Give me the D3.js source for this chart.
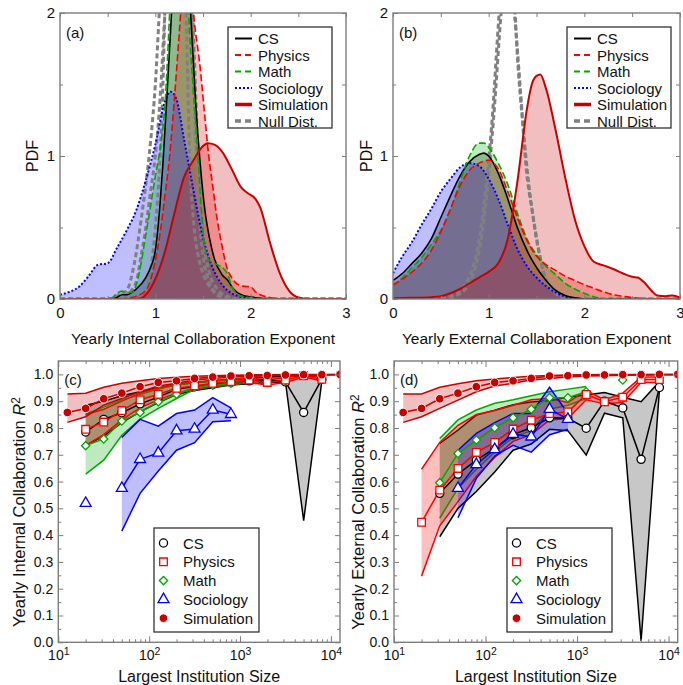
<!DOCTYPE html>
<html>
<head>
<meta charset="utf-8">
<script src="https://cdn.jsdelivr.net/npm/d3@7"></script>
<style>
  body { margin: 0; background: #fff; }
  svg { display: block; }
</style>
</head>
<body>
<svg id="fig" width="683" height="685"></svg>
<script>
// ---------- PDF curves of the yearly collaboration exponents: [exponent, density] ----------
const csInternal = [[0,0],[0.55,0],[0.6,0.012],[0.65,0.03],[0.7,0.03],[0.8,0.07],[0.9,0.15],[0.95,0.22],[1.0,0.34],[1.05,0.67],[1.08,0.95],[1.12,1.4],[1.17,2.0],[1.22,2.6],[1.28,2.9],[1.33,2.6],[1.37,2.0],[1.42,1.4],[1.47,0.95],[1.52,0.62],[1.57,0.42],[1.62,0.28],[1.7,0.17],[1.76,0.13],[1.82,0.07],[1.9,0.03],[2.0,0.015],[2.1,0.005],[2.2,0],[3,0]];
const physicsInternal = [[0,0],[0.6,0],[0.7,0.005],[0.8,0.02],[0.9,0.06],[1.0,0.27],[1.05,0.46],[1.1,0.72],[1.15,1.0],[1.2,1.4],[1.25,1.85],[1.3,2.3],[1.35,2.45],[1.4,2.0],[1.47,1.62],[1.52,1.27],[1.56,1.0],[1.6,0.8],[1.65,0.55],[1.7,0.37],[1.75,0.22],[1.8,0.15],[1.85,0.11],[1.92,0.09],[2.0,0.085],[2.05,0.05],[2.1,0.03],[2.2,0.01],[2.3,0],[3,0]];
const mathInternal = [[0,0],[0.5,0],[0.55,0.01],[0.6,0.04],[0.65,0.055],[0.7,0.045],[0.75,0.045],[0.8,0.1],[0.85,0.25],[0.9,0.45],[0.95,0.65],[1.0,0.86],[1.05,1.05],[1.1,1.35],[1.15,2.0],[1.2,2.8],[1.27,3.0],[1.32,2.6],[1.35,2.0],[1.4,1.45],[1.45,0.97],[1.48,0.65],[1.52,0.36],[1.57,0.27],[1.62,0.25],[1.68,0.23],[1.72,0.21],[1.76,0.17],[1.8,0.09],[1.85,0.04],[1.9,0.02],[2.0,0.01],[2.1,0],[3,0]];
const sociologyInternal = [[0,0.03],[0.1,0.05],[0.2,0.085],[0.3,0.16],[0.4,0.24],[0.5,0.25],[0.6,0.36],[0.7,0.48],[0.8,0.62],[0.9,0.83],[1.0,1.08],[1.1,1.38],[1.16,1.45],[1.22,1.4],[1.3,1.12],[1.4,0.76],[1.5,0.43],[1.6,0.22],[1.7,0.1],[1.8,0.04],[1.9,0.015],[2.0,0.005],[2.1,0],[3,0]];
const simulationInternal = [[0,0],[0.8,0],[0.85,0.005],[0.9,0.03],[1.0,0.14],[1.1,0.33],[1.2,0.6],[1.3,0.85],[1.4,0.97],[1.5,1.07],[1.55,1.09],[1.62,1.08],[1.7,1.03],[1.8,0.91],[1.9,0.78],[1.97,0.74],[2.05,0.7],[2.1,0.64],[2.2,0.4],[2.3,0.19],[2.4,0.06],[2.5,0.01],[2.6,0],[3,0]];
const nullInternalA = [[0,0],[0.6,0],[0.7,0.03],[0.8,0.12],[0.85,0.3],[0.9,0.5],[0.95,0.75],[1.0,1.0],[1.05,1.4],[1.1,2.0],[1.18,2.8],[1.25,3.0],[1.32,2.6],[1.38,2.0],[1.42,1.2],[1.45,0.7],[1.5,0.3],[1.55,0.15],[1.6,0.07],[1.7,0.02],[1.8,0],[3,0]];
const nullInternalB = [[0,0],[0.8,0],[0.9,0.05],[0.95,0.2],[1.0,0.5],[1.05,1.0],[1.08,1.5],[1.1,2.0],[1.2,3.0],[1.3,2.5],[1.33,1.8],[1.36,1.0],[1.4,0.55],[1.45,0.3],[1.5,0.18],[1.6,0.06],[1.7,0.01],[1.8,0],[3,0]];
const nullInternalC = [[0,0],[0.55,0],[0.62,0.03],[0.7,0.06],[0.78,0.25],[0.85,0.55],[0.9,0.8],[0.95,1.1],[1.0,1.5],[1.05,2.1],[1.15,2.9],[1.3,2.9],[1.38,2.2],[1.42,1.5],[1.46,0.8],[1.5,0.45],[1.56,0.2],[1.65,0.07],[1.75,0.02],[1.85,0],[3,0]];

const csExternal = [[0,0.13],[0.1,0.18],[0.2,0.25],[0.3,0.32],[0.4,0.42],[0.5,0.57],[0.6,0.72],[0.7,0.86],[0.8,0.96],[0.9,1.01],[0.95,1.02],[1.0,1.0],[1.1,0.88],[1.2,0.7],[1.3,0.5],[1.4,0.34],[1.5,0.22],[1.6,0.13],[1.7,0.06],[1.8,0.025],[1.9,0.008],[2.0,0],[3,0]];
const physicsExternal = [[0,0.1],[0.1,0.14],[0.2,0.19],[0.3,0.25],[0.4,0.34],[0.5,0.47],[0.6,0.63],[0.7,0.79],[0.8,0.9],[0.9,0.95],[1.0,0.97],[1.1,0.91],[1.2,0.75],[1.3,0.57],[1.4,0.41],[1.5,0.3],[1.6,0.24],[1.7,0.2],[1.8,0.16],[1.9,0.13],[2.0,0.1],[2.1,0.075],[2.2,0.05],[2.3,0.03],[2.4,0.02],[2.5,0.01],[2.6,0.005],[2.8,0],[3,0]];
const mathExternal = [[0,0.09],[0.1,0.15],[0.2,0.22],[0.3,0.29],[0.4,0.38],[0.5,0.48],[0.6,0.62],[0.7,0.82],[0.8,1.0],[0.9,1.09],[0.95,1.09],[1.0,1.06],[1.1,0.95],[1.2,0.8],[1.3,0.6],[1.4,0.42],[1.5,0.31],[1.6,0.23],[1.7,0.17],[1.8,0.11],[1.9,0.07],[2.0,0.04],[2.1,0.015],[2.2,0],[3,0]];
const sociologyExternal = [[0,0.18],[0.1,0.3],[0.2,0.4],[0.3,0.52],[0.4,0.63],[0.5,0.75],[0.6,0.84],[0.7,0.92],[0.8,0.95],[0.9,0.93],[1.0,0.84],[1.1,0.7],[1.2,0.52],[1.3,0.35],[1.4,0.23],[1.5,0.15],[1.6,0.09],[1.7,0.045],[1.8,0.017],[1.9,0.005],[2.0,0],[3,0]];
const simulationExternal = [[0,0.005],[0.2,0.008],[0.4,0.013],[0.5,0.02],[0.6,0.04],[0.7,0.07],[0.8,0.11],[0.9,0.15],[1.0,0.19],[1.1,0.25],[1.2,0.42],[1.3,0.82],[1.4,1.33],[1.45,1.5],[1.5,1.56],[1.54,1.57],[1.6,1.47],[1.7,1.18],[1.8,0.85],[1.9,0.56],[2.0,0.37],[2.1,0.26],[2.2,0.235],[2.3,0.21],[2.4,0.18],[2.5,0.155],[2.56,0.15],[2.62,0.12],[2.7,0.06],[2.76,0.025],[2.85,0.02],[2.92,0.025],[3.0,0.01]];
const nullExternalA = [[0,0],[0.5,0.005],[0.6,0.02],[0.74,0.09],[0.84,0.23],[0.9,0.41],[0.97,0.78],[1.03,1.2],[1.11,2.0],[1.19,2.6],[1.27,2.0],[1.34,1.39],[1.39,0.93],[1.46,0.6],[1.53,0.32],[1.6,0.13],[1.7,0.04],[1.8,0.01],[1.9,0],[3,0]];
const nullExternalB = [[0,0],[0.55,0],[0.65,0.02],[0.77,0.08],[0.86,0.22],[0.93,0.45],[0.99,0.8],[1.05,1.25],[1.13,2.0],[1.2,2.5],[1.26,2.2],[1.3,1.7],[1.36,1.2],[1.42,0.8],[1.48,0.5],[1.55,0.25],[1.62,0.1],[1.72,0.03],[1.82,0],[3,0]];

// ---------- R^2 versus largest institution size ----------
const sizes = [12.6, 20, 31.6, 50, 79.4, 126, 200, 316, 501, 794, 1259, 1995, 3162, 5012, 7943, 12589];

// internal collaboration
const csIntR2    = [null, 0.785, 0.832, 0.857, 0.89, 0.915, 0.945, 0.955, 0.963, 0.97, 0.976, 0.98, 0.972, 0.858, 0.982, null];
const csIntHi    = [null, 0.885, 0.90, 0.92, 0.935, 0.95, 0.96, 0.97, 0.975, 0.98, 0.985, 0.99, 0.992, 0.995, 0.992, null];
const csIntLo    = [null, 0.734, 0.77, 0.82, 0.86, 0.895, 0.925, 0.94, 0.95, 0.96, 0.965, 0.97, 0.972, 0.454, 0.975, null];
const phyIntR2   = [null, 0.795, 0.822, 0.865, 0.905, 0.926, 0.948, 0.957, 0.967, 0.973, 0.979, 0.970, 0.979, 0.995, 0.982, null];
const phyIntHi   = [null, 0.85, 0.87, 0.90, 0.93, 0.95, 0.965, 0.972, 0.978, 0.982, 0.986, 0.98, 0.988, 1.0, 0.99, null];
const phyIntLo   = [null, 0.735, 0.775, 0.83, 0.875, 0.905, 0.93, 0.945, 0.955, 0.963, 0.97, 0.96, 0.97, 0.99, 0.975, null];
const mathIntR2  = [null, 0.734, 0.759, 0.826, 0.858, 0.898, 0.926, 0.952, 0.960, 0.967, 0.983, null, 0.976, null, null, null];
const mathIntHi  = [null, 0.852, 0.878, 0.905, 0.925, 0.945, 0.96, 0.97, 0.975, 0.98, 0.99, null, null, null, null, null];
const mathIntLo  = [null, 0.628, 0.68, 0.773, 0.833, 0.873, 0.91, 0.944, 0.955, 0.96, 0.97, null, null, null, null, null];
const socIntR2   = [null, 0.519, null, 0.575, 0.683, 0.707, 0.79, 0.796, 0.867, 0.851, null, null, null, null, null, null];
const socIntHi   = [null, null, null, 0.765, 0.832, 0.807, 0.854, 0.867, 0.913, 0.875, null, null, null, null, null, null];
const socIntLo   = [null, null, null, 0.415, 0.556, 0.639, 0.717, 0.745, 0.823, 0.827, null, null, null, null, null, null];
const simIntR2   = [0.858, 0.873, 0.909, 0.930, 0.954, 0.970, 0.976, 0.985, 0.990, 0.994, 0.995, 0.996, 0.998, 0.999, 0.999, 1.0];
const simIntHi   = [0.927, 0.93, 0.952, 0.967, 0.976, 0.985, 0.989, 0.993, 0.995, 0.997, 0.998, 0.999, 1.0, 1.0, 1.0, 1.0];
const simIntLo   = [0.821, 0.842, 0.885, 0.91, 0.935, 0.957, 0.967, 0.979, 0.985, 0.989, 0.993, 0.995, 0.996, 0.997, 0.998, 0.999];

// external collaboration
const csExtR2    = [null, null, 0.556, 0.628, 0.680, 0.724, 0.775, 0.801, 0.838, 0.836, 0.799, 0.90, 0.875, 0.683, 0.951, null];
const csExtHi    = [null, null, 0.742, 0.792, 0.848, 0.866, 0.887, 0.897, 0.903, 0.915, 0.923, 0.932, 0.915, 0.898, 0.973, null];
const csExtLo    = [null, null, 0.394, 0.50, 0.563, 0.636, 0.717, 0.74, 0.795, 0.79, 0.699, 0.855, 0.838, 0.005, 0.94, null];
const phyExtR2   = [null, 0.448, 0.568, 0.649, 0.709, 0.746, 0.796, 0.829, 0.854, 0.860, 0.925, 0.898, 0.915, 0.981, 0.981, null];
const phyExtHi   = [null, 0.646, 0.746, 0.81, 0.85, 0.865, 0.885, 0.905, 0.91, 0.895, 0.94, 0.905, 0.93, 0.99, 0.99, null];
const phyExtLo   = [null, 0.247, 0.435, 0.525, 0.62, 0.69, 0.75, 0.775, 0.83, 0.835, 0.905, 0.89, 0.895, 0.97, 0.97, null];
const mathExtR2  = [null, null, 0.596, 0.705, 0.755, 0.801, 0.838, 0.870, 0.913, 0.913, 0.935, null, 0.979, null, null, null];
const mathExtHi  = [null, null, 0.761, 0.83, 0.867, 0.892, 0.905, 0.92, 0.935, 0.945, 0.955, null, null, null, null, null];
const mathExtLo  = [null, null, 0.463, 0.575, 0.645, 0.71, 0.765, 0.79, 0.87, 0.885, 0.91, null, null, null, null, null];
const socExtR2   = [null, null, null, 0.575, 0.664, 0.72, 0.777, 0.767, 0.87, 0.833, null, null, null, null, null, null];
const socExtHi   = [null, null, null, 0.717, 0.78, 0.82, 0.854, 0.854, 0.952, 0.854, null, null, null, null, null, null];
const socExtLo   = [null, null, null, 0.465, 0.612, 0.695, 0.735, 0.71, 0.775, 0.795, null, null, null, null, null, null];
const simExtR2   = [0.858, 0.873, 0.909, 0.930, 0.954, 0.970, 0.976, 0.985, 0.994, 0.995, 0.998, 0.998, 0.999, 0.999, 1.0, 1.0];
const simExtHi   = [0.927, 0.927, 0.952, 0.965, 0.976, 0.983, 0.988, 0.993, 0.996, 0.998, 0.999, 1.0, 1.0, 1.0, 1.0, 1.0];
const simExtLo   = [0.821, 0.842, 0.873, 0.904, 0.935, 0.957, 0.967, 0.979, 0.985, 0.99, 0.994, 0.995, 0.997, 0.998, 0.999, 0.999];

// axis ticks and labels
const pdfMajorX = [0, 1, 2, 3];
const pdfMinorX = [0.5, 1.5, 2.5];
const pdfMajorY = [0, 1, 2];
const pdfMinorY = [0.5, 1.5];
const r2MajorY = [0, 0.1, 0.2, 0.3, 0.4, 0.5, 0.6, 0.7, 0.8, 0.9, 1.0];
const r2MinorY = [0.05, 0.15, 0.25, 0.35, 0.45, 0.55, 0.65, 0.75, 0.85, 0.95];
const sizeMajor = [10, 100, 1000, 10000];
const sizeMinor = [20,30,40,50,60,70,80,90,200,300,400,500,600,700,800,900,2000,3000,4000,5000,6000,7000,8000,9000];
const legendNames = ["CS", "Physics", "Math", "Sociology", "Simulation", "Null Dist."];

// ---------- styles ----------
const FONT = '"Liberation Sans", Arial, Helvetica, sans-serif';
const FRAME = "#7d7d7d";
const C = { cs: "#000000", phy: "#ff0000", math: "#00a800", soc: "#0000ff", sim: "#c80000", nul: "#808080" };
const FILL_OPACITY = 0.25;

const svg = d3.select("#fig");

function styleAxis(a, size) {
  a.attr("font-family", FONT).attr("font-size", size);
  a.select(".domain").remove();
  a.selectAll(".tick line").attr("stroke", FRAME).attr("stroke-width", 1);
  a.selectAll(".tick text").attr("fill", "#111");
  return a;
}

function frame(g, x0, x1, y0, y1) {
  g.append("rect").attr("x", x0).attr("y", y0).attr("width", x1 - x0).attr("height", y1 - y0)
    .attr("fill", "none").attr("stroke", FRAME).attr("stroke-width", 1.4);
}

function clip(g, id, x0, x1, y0, y1) {
  g.append("clipPath").attr("id", id).append("rect")
    .attr("x", x0).attr("y", y0).attr("width", x1 - x0).attr("height", y1 - y0);
  return g.append("g").attr("clip-path", `url(#${id})`);
}

// ---------- PDF panels ----------
function pdfPanel(p) {
  const g = svg.append("g");
  const x = d3.scaleLinear().domain([0, 3]).range([p.x0, p.x1]);
  const y = d3.scaleLinear().domain([0, 2]).range([p.y1, p.y0]);
  const plot = clip(g, p.id, p.x0, p.x1, p.y0, p.y1);

  const area = d3.area().x(d => x(d[0])).y0(y(0)).y1(d => y(d[1])).curve(d3.curveMonotoneX);
  const line = d3.line().x(d => x(d[0])).y(d => y(d[1])).curve(d3.curveMonotoneX);

  // fills stacked translucently: fields first, sociology and simulation on top
  const fills = [
    { data: p.cs, color: C.cs }, { data: p.phy, color: C.phy }, { data: p.math, color: C.math },
    { data: p.soc, color: C.soc }, { data: p.sim, color: C.sim }
  ];
  fills.forEach(s => plot.append("path").datum(s.data).attr("d", area)
    .attr("fill", s.color).attr("fill-opacity", FILL_OPACITY).attr("stroke", "none"));

  p.nulls.forEach(n => plot.append("path").datum(n).attr("d", line)
    .attr("fill", "none").attr("stroke", C.nul).attr("stroke-width", 3).attr("stroke-dasharray", "5,3"));

  const lines = [
    { data: p.soc, color: C.soc, w: 2, dash: "2,2" },
    { data: p.cs, color: C.cs, w: 1.6, dash: null },
    { data: p.math, color: C.math, w: 1.6, dash: "7,3" },
    { data: p.phy, color: C.phy, w: 1.6, dash: "7,3" },
    { data: p.sim, color: C.sim, w: 2, dash: null }
  ];
  lines.forEach(s => plot.append("path").datum(s.data).attr("d", line)
    .attr("fill", "none").attr("stroke", s.color).attr("stroke-width", s.w)
    .attr("stroke-dasharray", s.dash));

  styleAxis(g.append("g").attr("transform", `translate(0,${p.y1})`)
    .call(d3.axisBottom(x).tickValues(pdfMajorX).tickSize(-5).tickPadding(8).tickFormat(d3.format("d"))), 15);
  styleAxis(g.append("g").attr("transform", `translate(0,${p.y1})`)
    .call(d3.axisBottom(x).tickValues(pdfMinorX).tickSize(-3).tickFormat("")), 15);
  styleAxis(g.append("g").attr("transform", `translate(0,${p.y0})`)
    .call(d3.axisTop(x).tickValues(pdfMajorX.concat(pdfMinorX)).tickSize(-4).tickFormat("")), 15);
  styleAxis(g.append("g").attr("transform", `translate(${p.x0},0)`)
    .call(d3.axisLeft(y).tickValues(pdfMajorY).tickSize(-5).tickPadding(5).tickFormat(d3.format("d"))), 15);
  styleAxis(g.append("g").attr("transform", `translate(${p.x0},0)`)
    .call(d3.axisLeft(y).tickValues(pdfMinorY).tickSize(-3).tickFormat("")), 15);
  styleAxis(g.append("g").attr("transform", `translate(${p.x1},0)`)
    .call(d3.axisRight(y).tickValues(pdfMajorY.concat(pdfMinorY)).tickSize(-4).tickFormat("")), 15);
  frame(g, p.x0, p.x1, p.y0, p.y1);

  g.append("text").attr("x", p.x0 + 6).attr("y", p.y0 + 25).attr("font-family", FONT)
    .attr("font-size", 15).attr("fill", "#111").text(p.label);
  g.append("text").attr("x", (p.x0 + p.x1) / 2).attr("y", 344).attr("text-anchor", "middle")
    .attr("font-family", FONT).attr("font-size", 15.5).attr("fill", "#111").text(p.xTitle);
  g.append("text").attr("transform", `translate(${p.yTitleX},${(p.y0 + p.y1) / 2}) rotate(-90)`)
    .attr("text-anchor", "middle").attr("font-family", FONT).attr("font-size", 16).attr("fill", "#111").text("PDF");

  // legend
  const L = g.append("g");
  L.append("rect").attr("x", p.legX).attr("y", 27).attr("width", 104).attr("height", 101)
    .attr("fill", "#fff").attr("stroke", "#333").attr("stroke-width", 1.3);
  const styles = [
    { c: C.cs, w: 2, d: null }, { c: C.phy, w: 1.8, d: "6,4" }, { c: C.math, w: 1.8, d: "6,4" },
    { c: C.soc, w: 2, d: "2,2" }, { c: C.sim, w: 3.5, d: null }, { c: C.nul, w: 3.5, d: "6,4" }
  ];
  legendNames.forEach((name, i) => {
    const yy = 38.5 + i * 16.5;
    L.append("line").attr("x1", p.legX + 7).attr("x2", p.legX + 24).attr("y1", yy).attr("y2", yy)
      .attr("stroke", styles[i].c).attr("stroke-width", styles[i].w).attr("stroke-dasharray", styles[i].d);
    L.append("text").attr("x", p.legX + 30).attr("y", yy + 5.5).attr("font-family", FONT)
      .attr("font-size", 15).attr("fill", "#111").text(name);
  });
}

pdfPanel({ id: "clipA", x0: 60, x1: 346, y0: 13, y1: 299, label: "(a)", yTitleX: 38,
  xTitle: "Yearly Internal Collaboration Exponent", legX: 228,
  cs: csInternal, phy: physicsInternal, math: mathInternal, soc: sociologyInternal, sim: simulationInternal,
  nulls: [nullInternalC, nullInternalA, nullInternalB] });
pdfPanel({ id: "clipB", x0: 393, x1: 680, y0: 13, y1: 299, label: "(b)", yTitleX: 372,
  xTitle: "Yearly External Collaboration Exponent", legX: 567,
  cs: csExternal, phy: physicsExternal, math: mathExternal, soc: sociologyExternal, sim: simulationExternal,
  nulls: [nullExternalA, nullExternalB] });

// ---------- R^2 panels ----------
const markerTypes = { cs: d3.symbolCircle, phy: d3.symbolSquare, math: d3.symbolSquare, soc: d3.symbolTriangle, sim: d3.symbolCircle };
const markerSizes = { cs: 52, phy: 58, math: 34, soc: 52, sim: 58 };

function drawMarker(g, key, cx, cy) {
  const filled = key === "sim";
  g.append("path").attr("d", d3.symbol().type(markerTypes[key]).size(markerSizes[key])())
    .attr("transform", `translate(${cx},${cy})` + (key === "math" ? " rotate(45)" : ""))
    .attr("fill", filled ? C.sim : "#fff")
    .attr("stroke", filled ? "#fff" : C[key]).attr("stroke-width", filled ? 0.9 : 1.3);
}

function r2Panel(p) {
  const g = svg.append("g");
  const x = d3.scaleLog().domain([10, 12589]).range([p.x0, p.x1]);
  const y = d3.scaleLinear().domain([0, 1.05]).range([p.y1, p.y0]);
  const plot = clip(g, p.id, p.x0, p.x1, p.y0, p.y1);
  const idx = d3.range(sizes.length);

  // uncertainty bands
  p.series.forEach(s => {
    const ok = i => s.lo[i] != null && s.hi[i] != null;
    plot.append("path").attr("d", d3.area().defined(ok)
        .x(i => x(sizes[i])).y0(i => y(s.lo[i])).y1(i => y(s.hi[i]))(idx))
      .attr("fill", C[s.key]).attr("fill-opacity", s.key === "cs" ? 0.22 : FILL_OPACITY);
    [s.lo, s.hi].forEach(arr => plot.append("path")
      .attr("d", d3.line().defined(i => arr[i] != null).x(i => x(sizes[i])).y(i => y(arr[i]))(idx))
      .attr("fill", "none").attr("stroke", C[s.key]).attr("stroke-width", 1.5));
  });
  // mean curves with markers
  p.series.forEach(s => {
    plot.append("path")
      .attr("d", d3.line().defined(i => s.v[i] != null).x(i => x(sizes[i])).y(i => y(s.v[i]))(idx))
      .attr("fill", "none").attr("stroke", C[s.key]).attr("stroke-width", 1.5);
  });
  p.series.forEach(s => {
    idx.filter(i => s.v[i] != null).forEach(i => drawMarker(plot, s.key, x(sizes[i]), y(s.v[i])));
  });

  const bottom = styleAxis(g.append("g").attr("transform", `translate(0,${p.y1})`)
    .call(d3.axisBottom(x).tickValues(sizeMajor).tickSize(-6).tickPadding(8)), 14);
  bottom.selectAll(".tick text").each(function (d) {
    const t = d3.select(this).text(null);
    t.append("tspan").text("10");
    t.append("tspan").attr("dy", "-0.5em").attr("font-size", "0.75em").text(Math.round(Math.log10(d)));
  });
  styleAxis(g.append("g").attr("transform", `translate(0,${p.y1})`)
    .call(d3.axisBottom(x).tickValues(sizeMinor).tickSize(-3).tickFormat("")), 14);
  styleAxis(g.append("g").attr("transform", `translate(0,${p.y0})`)
    .call(d3.axisTop(x).tickValues(sizeMajor).tickSize(-6).tickFormat("")), 14);
  styleAxis(g.append("g").attr("transform", `translate(0,${p.y0})`)
    .call(d3.axisTop(x).tickValues(sizeMinor).tickSize(-3).tickFormat("")), 14);
  styleAxis(g.append("g").attr("transform", `translate(${p.x0},0)`)
    .call(d3.axisLeft(y).tickValues(r2MajorY).tickSize(-5).tickPadding(5).tickFormat(d3.format(".1f"))), 14);
  styleAxis(g.append("g").attr("transform", `translate(${p.x0},0)`)
    .call(d3.axisLeft(y).tickValues(r2MinorY).tickSize(-3).tickFormat("")), 14);
  styleAxis(g.append("g").attr("transform", `translate(${p.x1},0)`)
    .call(d3.axisRight(y).tickValues(r2MajorY).tickSize(-5).tickFormat("")), 14);
  styleAxis(g.append("g").attr("transform", `translate(${p.x1},0)`)
    .call(d3.axisRight(y).tickValues(r2MinorY).tickSize(-3).tickFormat("")), 14);
  frame(g, p.x0, p.x1, p.y0, p.y1);

  g.append("text").attr("x", p.x0 + 6).attr("y", p.y0 + 24).attr("font-family", FONT)
    .attr("font-size", 15).attr("fill", "#111").text(p.label);
  g.append("text").attr("x", (p.x0 + p.x1) / 2).attr("y", 682).attr("text-anchor", "middle")
    .attr("font-family", FONT).attr("font-size", 16).attr("fill", "#111").text("Largest Institution Size");
  const yt = g.append("text").attr("transform", `translate(${p.yTitleX},512) rotate(-90)`)
    .attr("text-anchor", "middle").attr("font-family", FONT).attr("font-size", 16.5).attr("fill", "#111");
  yt.append("tspan").text(p.yTitle + " ");
  yt.append("tspan").attr("font-style", "italic").text("R");
  yt.append("tspan").attr("dy", "-0.45em").attr("font-size", "0.72em").text("2");

  // legend
  const L = g.append("g");
  L.append("rect").attr("x", p.legX).attr("y", 528).attr("width", 105).attr("height", 104)
    .attr("fill", "#fff").attr("stroke", "#333").attr("stroke-width", 1.3);
  ["cs", "phy", "math", "soc", "sim"].forEach((key, i) => {
    const yy = 543 + i * 18.8;
    drawMarker(L, key, p.legX + 9.5, yy);
    L.append("text").attr("x", p.legX + 29).attr("y", yy + 5.5).attr("font-family", FONT)
      .attr("font-size", 15).attr("fill", "#111").text(legendNames[i]);
  });
}

r2Panel({ id: "clipC", x0: 58.3, x1: 340, y0: 361, y1: 642.3, label: "(c)", yTitleX: 25, legX: 154,
  yTitle: "Yearly Internal Collaboration",
  series: [
    { key: "cs", v: csIntR2, hi: csIntHi, lo: csIntLo },
    { key: "math", v: mathIntR2, hi: mathIntHi, lo: mathIntLo },
    { key: "phy", v: phyIntR2, hi: phyIntHi, lo: phyIntLo },
    { key: "soc", v: socIntR2, hi: socIntHi, lo: socIntLo },
    { key: "sim", v: simIntR2, hi: simIntHi, lo: simIntLo }
  ] });
r2Panel({ id: "clipD", x0: 394, x1: 677.7, y0: 361, y1: 642.3, label: "(d)", yTitleX: 364, legX: 507,
  yTitle: "Yearly External Collaboration",
  series: [
    { key: "cs", v: csExtR2, hi: csExtHi, lo: csExtLo },
    { key: "math", v: mathExtR2, hi: mathExtHi, lo: mathExtLo },
    { key: "phy", v: phyExtR2, hi: phyExtHi, lo: phyExtLo },
    { key: "soc", v: socExtR2, hi: socExtHi, lo: socExtLo },
    { key: "sim", v: simExtR2, hi: simExtHi, lo: simExtLo }
  ] });
</script>
</body>
</html>
